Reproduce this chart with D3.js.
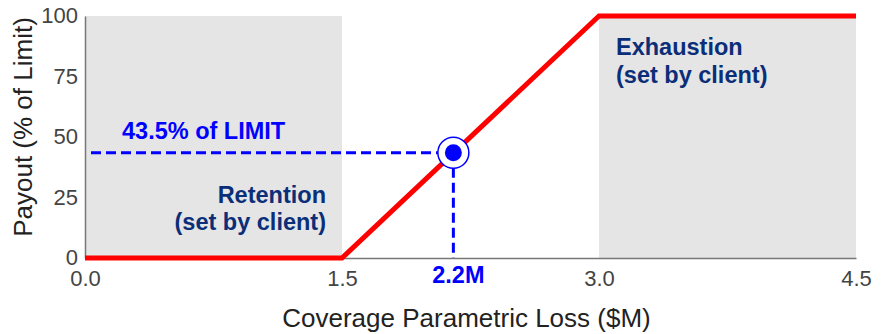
<!DOCTYPE html>
<html>
<head>
<meta charset="utf-8">
<script src="https://cdn.jsdelivr.net/npm/d3@7"></script>
<style>
  body { margin: 0; background: #fff; }
  text { font-family: "Liberation Sans", Arial, sans-serif; }
</style>
</head>
<body>
<svg id="chart" width="887" height="334"></svg>
<script>
// payout curve (loss $M, payout %)
const curveX = [0, 1.5, 3.0, 4.5];
const curveY = [0, 0, 100, 100];
// shaded bands (set by client)
const bands = [
  { x0: 0, x1: 1.5, name: "Retention" },
  { x0: 3.0, x1: 4.5, name: "Exhaustion" }
];
// highlighted point
const pointX = 2.15;
const pointY = 43.5;
const pointLabel = "43.5% of LIMIT";
const pointXLabel = "2.2M";
const xTicks = [0, 1.5, 3.0, 4.5];
const yTicks = [0, 25, 50, 75, 100];

const margin = { top: 16, right: 31, bottom: 76, left: 85 };
const svg = d3.select("#chart");
const width = 887 - margin.left - margin.right;
const height = 334 - margin.top - margin.bottom;
const g = svg.append("g").attr("transform", `translate(${margin.left},${margin.top})`);

const x = d3.scaleLinear().domain([0, 4.5]).range([0, width]);
const y = d3.scaleLinear().domain([0, 100]).range([height, 0]);

// gray bands
g.selectAll("rect.band")
  .data(bands)
  .join("rect")
  .attr("class", "band")
  .attr("x", d => x(d.x0))
  .attr("width", d => x(d.x1) - x(d.x0))
  .attr("y", 0)
  .attr("height", height)
  .attr("fill", "#e5e5e5");

// axes
const xAxis = g.append("g")
  .attr("transform", `translate(0,${height})`)
  .call(d3.axisBottom(x).tickValues(xTicks).tickFormat(d3.format(".1f")).tickSize(0).tickPadding(12));
const yAxis = g.append("g")
  .call(d3.axisLeft(y).tickValues(yTicks).tickSize(0).tickPadding(7));
[xAxis, yAxis].forEach(a => {
  a.select(".domain").attr("stroke", "#777").attr("stroke-width", 1.5);
  a.selectAll("text").attr("fill", "#444").style("font-size", "22px");
});
yAxis.selectAll(".tick text").attr("dy", "0.3em");

// dashed guides to the point
const blue = "#0000ff";
g.append("line")
  .attr("x1", 6).attr("x2", x(pointX))
  .attr("y1", y(pointY)).attr("y2", y(pointY))
  .attr("stroke", blue).attr("stroke-width", 3).attr("stroke-dasharray", "10,5");
g.append("line")
  .attr("x1", x(pointX)).attr("x2", x(pointX))
  .attr("y1", y(pointY)).attr("y2", height)
  .attr("stroke", blue).attr("stroke-width", 3).attr("stroke-dasharray", "10,5");

// payout curve
const line = d3.line().x(d => x(d[0])).y(d => y(d[1]));
g.append("path")
  .datum(curveX.map((v, i) => [v, curveY[i]]))
  .attr("d", line)
  .attr("fill", "none")
  .attr("stroke", "#ff0000")
  .attr("stroke-width", 5);

// marker
g.append("circle")
  .attr("cx", x(pointX)).attr("cy", y(pointY)).attr("r", 15.5)
  .attr("fill", "#fff").attr("stroke", blue).attr("stroke-width", 1.5);
g.append("circle")
  .attr("cx", x(pointX)).attr("cy", y(pointY)).attr("r", 8.5)
  .attr("fill", blue);

// labels
const bold = "23.5px";
g.append("text")
  .attr("x", 37).attr("y", y(pointY) - 14)
  .attr("fill", blue).style("font-size", bold).style("font-weight", "bold")
  .text(pointLabel);
g.append("text")
  .attr("x", x(pointX) + 5).attr("y", height + 25)
  .attr("text-anchor", "middle")
  .attr("fill", blue).style("font-size", bold).style("font-weight", "bold")
  .text(pointXLabel);

const navy = "#0b2e78";
const ret = g.append("text")
  .attr("text-anchor", "end")
  .attr("fill", navy).style("font-size", bold).style("font-weight", "bold");
ret.append("tspan").attr("x", x(1.5) - 16).attr("y", 187).text(bands[0].name);
ret.append("tspan").attr("x", x(1.5) - 16).attr("y", 214).text("(set by client)");

const exh = g.append("text")
  .attr("fill", navy).style("font-size", bold).style("font-weight", "bold");
exh.append("tspan").attr("x", x(3.0) + 17).attr("y", 39).text(bands[1].name);
exh.append("tspan").attr("x", x(3.0) + 17).attr("y", 67).text("(set by client)");

// axis titles
svg.append("text")
  .attr("x", margin.left + width / 2 - 4).attr("y", 327)
  .attr("text-anchor", "middle")
  .attr("fill", "#222").style("font-size", "26px")
  .text("Coverage Parametric Loss ($M)");
svg.append("text")
  .attr("transform", `translate(32,${margin.top + height / 2 - 10}) rotate(-90)`)
  .attr("text-anchor", "middle")
  .attr("fill", "#222").style("font-size", "26px")
  .text("Payout (% of Limit)");
</script>
</body>
</html>
